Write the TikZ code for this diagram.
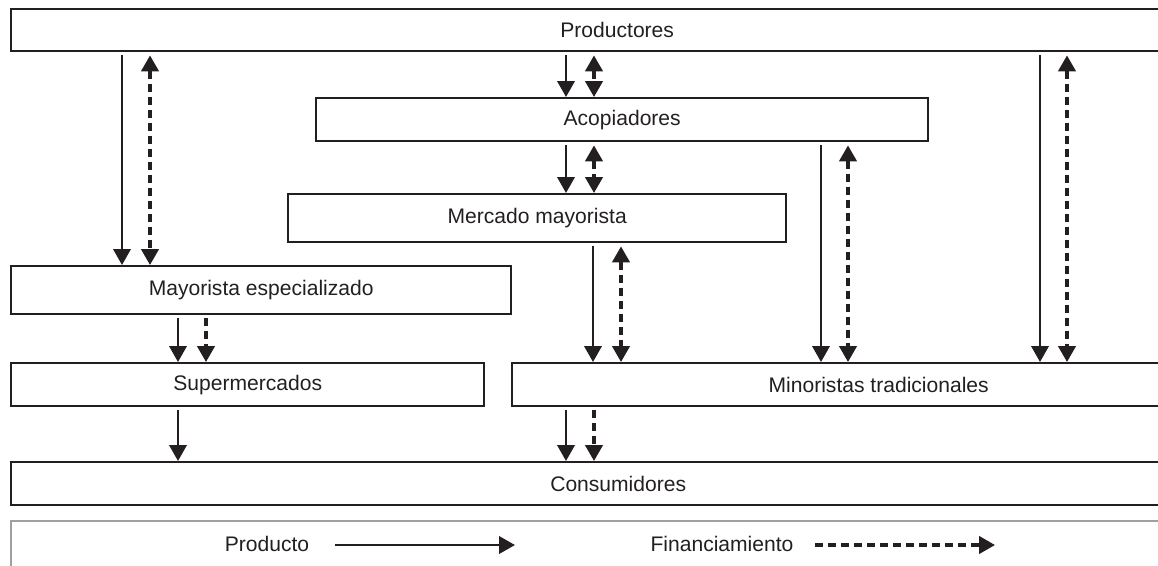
\documentclass[tikz,border=0pt]{standalone}
\usepackage{fontspec}
\setmainfont{Liberation Sans}
\usetikzlibrary{arrows.meta}
\definecolor{ink}{HTML}{231F20}
\definecolor{rulegray}{HTML}{A0A0A0}
\begin{document}
\begin{tikzpicture}[x=0.75pt,y=-0.75pt,
  every node/.style={font=\fontsize{15.8pt}{18pt}\selectfont, text=ink},
  box/.style={draw=ink, line width=1.8pt, inner sep=0pt, anchor=north west},
  legendbox/.style={draw=rulegray, line width=1.8pt, inner sep=0pt, anchor=north west},
  flow/.style={draw=ink, line width=2.1pt, -{Triangle[width=13pt,length=12pt]}, shorten <=2.25pt},
  fin/.style={draw=ink, line width=2.5pt, dash pattern=on 6pt off 3.75pt,
    -{Triangle[width=13pt,length=12pt]}, shorten <=2.25pt},
  finboth/.style={fin, {Triangle[width=13pt,length=12pt]}-{Triangle[width=13pt,length=12pt]}}
]
\useasboundingbox (0,0) rectangle (1158,565);
\clip (0,0) rectangle (1158,565);

% Chain members
\node[box, minimum width=1212*0.75pt, minimum height=42*0.75pt] (prod) at (10,8) {Productores};
\node[box, minimum width=612*0.75pt, minimum height=43*0.75pt] (acop) at (315,97) {Acopiadores};
\node[box, minimum width=498*0.75pt, minimum height=48*0.75pt] (merc) at (287,193) {Mercado mayorista};
\node[box, minimum width=500*0.75pt, minimum height=48*0.75pt] (mesp) at (10,265) {Mayorista especializado};
\node[box, minimum width=473*0.75pt, minimum height=43*0.75pt] (super) at (10,362) {Supermercados};
\node[box, minimum width=733*0.75pt, minimum height=43*0.75pt] (mino) at (511,362) {Minoristas tradicionales};
\node[box, minimum width=1214*0.75pt, minimum height=43*0.75pt] (cons) at (10,461) {Consumidores};

% Columns of the connectors
\coordinate (c122) at (122,0);
\coordinate (c150) at (150,0);
\coordinate (c178) at (178,0);
\coordinate (c206) at (206,0);
\coordinate (c566) at (566,0);
\coordinate (c594) at (594,0);
\coordinate (c593) at (593,0);
\coordinate (c621) at (621,0);
\coordinate (c821) at (821,0);
\coordinate (c848) at (848,0);
\coordinate (c1040) at (1040,0);
\coordinate (c1067) at (1067,0);

% Productores -> Mayorista especializado
\draw[flow] (prod.south -| c122) -- (mesp.north -| c122);
\draw[finboth] (prod.south -| c150) -- (mesp.north -| c150);
% Productores -> Acopiadores
\draw[flow] (prod.south -| c566) -- (acop.north -| c566);
\draw[finboth] (prod.south -| c594) -- (acop.north -| c594);
% Acopiadores -> Mercado mayorista
\draw[flow] (acop.south -| c566) -- (merc.north -| c566);
\draw[finboth] (acop.south -| c594) -- (merc.north -| c594);
% Mercado mayorista -> Minoristas tradicionales
\draw[flow] (merc.south -| c593) -- (mino.north -| c593);
\draw[finboth] (merc.south -| c621) -- (mino.north -| c621);
% Acopiadores -> Minoristas tradicionales
\draw[flow] (acop.south -| c821) -- (mino.north -| c821);
\draw[finboth] (acop.south -| c848) -- (mino.north -| c848);
% Productores -> Minoristas tradicionales
\draw[flow] (prod.south -| c1040) -- (mino.north -| c1040);
\draw[finboth] (prod.south -| c1067) -- (mino.north -| c1067);
% Mayorista especializado -> Supermercados
\draw[flow] (mesp.south -| c178) -- (super.north -| c178);
\draw[fin] (mesp.south -| c206) -- (super.north -| c206);
% Supermercados -> Consumidores
\draw[flow] (super.south -| c178) -- (cons.north -| c178);
% Minoristas tradicionales -> Consumidores
\draw[flow] (mino.south -| c566) -- (cons.north -| c566);
\draw[fin] (mino.south -| c594) -- (cons.north -| c594);

% Legend
\node[legendbox, minimum width=1300*0.75pt, minimum height=100*0.75pt] (leg) at (10,520) {};
\node (lprod) at (267,544) {Producto};
\node (lfin) at (722,544) {Financiamiento};
\coordinate (lp1) at (335,545);
\coordinate (lp2) at (515,545);
\coordinate (lf1) at (815,545);
\coordinate (lf2) at (995,545);
\draw[flow, shorten <=0pt] (lp1) -- (lp2);
\draw[fin, shorten <=0pt] (lf1) -- (lf2);
\end{tikzpicture}
\end{document}
